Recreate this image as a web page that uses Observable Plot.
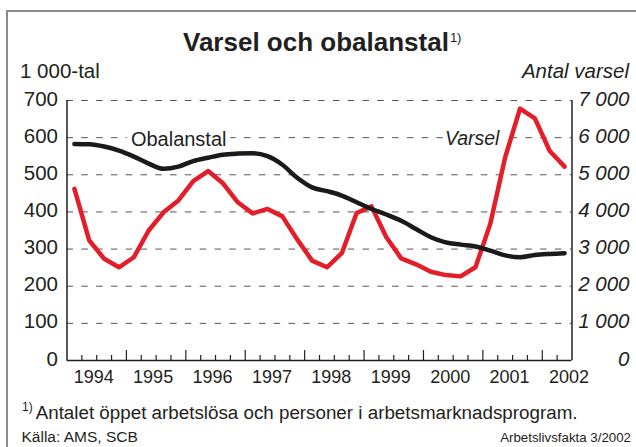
<!DOCTYPE html>
<html>
<head>
<meta charset="utf-8">
<script src="https://cdn.jsdelivr.net/npm/d3@7"></script>
<script src="https://cdn.jsdelivr.net/npm/@observablehq/plot@0.6"></script>
<style>
  body { margin: 0; background: #fff; }
  #wrap { position: relative; width: 636px; height: 447px; overflow: hidden;
          font-family: "Liberation Sans", Arial, Helvetica, sans-serif; color: #231f20; background: #fff; }
  #frame { position: absolute; left: 6px; top: 10px; width: 700px; height: 500px;
           border-top: 2px solid #8c8c8c; border-left: 2px solid #8c8c8c; z-index: 3; pointer-events: none; }
  .t { position: absolute; white-space: nowrap; line-height: 1; z-index: 2; }
  #chart { position: absolute; left: 0; top: 60px; z-index: 1; }
</style>
</head>
<body>
<div id="wrap">
  <div id="chart"></div>
  <div class="t" id="title" style="left:183px; top:29px; font-size:26px; font-weight:bold;">Varsel och obalanstal<span style="font-size:13px; font-weight:normal; vertical-align:9px; margin-left:1px;">1)</span></div>
  <div class="t" id="unitLeft" style="left:20px; top:60.6px; font-size:20.5px;">1&nbsp;000-tal</div>
  <div class="t" id="unitRight" style="right:7px; top:60.6px; font-size:20.5px; font-style:italic;">Antal varsel</div>
  <div class="t" id="note" style="left:22px; top:400.8px; font-size:18.8px;"><span style="font-size:12px; vertical-align:8px; margin-right:3px;">1)</span>Antalet öppet arbetslösa och personer i arbetsmarknadsprogram.</div>
  <div class="t" id="source" style="left:21.5px; top:428.5px; font-size:15.5px;">Källa: AMS, SCB</div>
  <div class="t" id="credit" style="right:5px; top:431px; font-size:13.3px;">Arbetslivsfakta 3/2002</div>
  <div id="frame"></div>
</div>
<script>
// Quarterly values, 1994 Q1 – 2002 Q2
const obalanstal = [
  583, 582, 576, 565,
  549, 530, 516, 522,
  537, 546, 554, 557,
  558, 550, 527, 492,
  466, 456, 444, 426,
  408, 393, 376, 354,
  332, 318, 312, 307,
  296, 283, 278, 284,
  287, 289
];
const varsel = [
  4620, 3230, 2740, 2510,
  2780, 3500, 3990, 4310,
  4830, 5100, 4770, 4260,
  3960, 4080, 3880, 3260,
  2690, 2510, 2890, 3970,
  4150, 3320, 2750, 2590,
  2390, 2300, 2265, 2510,
  3680, 5470, 6780, 6520,
  5640, 5220
];
const startYear = 1994;
const years = [1994, 1995, 1996, 1997, 1998, 1999, 2000, 2001, 2002];
const leftTicks = [0, 100, 200, 300, 400, 500, 600, 700];
const obalLabel = [{name: "Obalanstal", year: 1995.88, value: 600}];
const varselLabel = [{name: "Varsel", year: 2000.82, value: 600}];

const qx = i => startYear + (i + 0.5) / 4;
const obalData = obalanstal.map((v, i) => ({x: qx(i), v}));
const varselData = varsel.map((v, i) => ({x: qx(i), v: v / 10}));

const quarterTicks = d3.range(startYear, 2002.5, 0.25).filter(d => d % 1 !== 0);
const yearTicks = years.filter(y => y > startYear);
const fmt = d => d3.format(",")(d).replace(/,/g, "\u00a0");

const ink = "#231f20";
const plot = Plot.plot({
  width: 636,
  height: 340,
  marginLeft: 66.5,
  marginRight: 64.5,
  marginTop: 40,
  marginBottom: 40,
  x: {domain: [1994, 2002.5]},
  y: {domain: [0, 700]},
  style: {fontFamily: "Liberation Sans, Arial, Helvetica, sans-serif", color: ink, background: "transparent", overflow: "visible"},
  marks: [
    Plot.ruleY(leftTicks.filter(d => d > 0), {stroke: "#555", strokeWidth: 1, strokeDasharray: "6.5,8.3"}),
    Plot.axisY(leftTicks, {anchor: "left", tickSize: 0, tickPadding: 9, fontSize: 20.5, dy: -1.5, label: null, tickFormat: d => String(d), fill: ink}),
    Plot.axisY(leftTicks, {anchor: "right", tickSize: 0, tickPadding: 57.5, textAnchor: "end", fontStyle: "italic", fontSize: 20.5, dy: -1.5, label: null, tickFormat: d => fmt(d * 10), fill: ink}),
    Plot.line(varselData, {x: "x", y: "v", stroke: "#e31e2a", strokeWidth: 4.5}),
    Plot.line(obalData, {x: "x", y: "v", stroke: "#1a1a1a", strokeWidth: 4.5, curve: "monotone-x"}),
    Plot.text(obalLabel, {x: "year", y: "value", text: "name", fontSize: 20, fill: ink, stroke: "white", strokeWidth: 10, dy: 1.5}),
    Plot.text(varselLabel, {x: "year", y: "value", text: "name", fontSize: 19.5, fontStyle: "italic", fill: ink, stroke: "white", strokeWidth: 10, dy: 1.5}),
    Plot.ruleX([1994, 2002.5], {y1: 0, y2: 700, stroke: ink, strokeWidth: 1.5}),
    Plot.ruleY([0], {stroke: ink, strokeWidth: 1.5}),
    Plot.axisX(quarterTicks, {anchor: "bottom", tickSize: -5, tickFormat: () => "", label: null, stroke: ink, strokeWidth: 1.2}),
    Plot.axisX(yearTicks, {anchor: "bottom", tickSize: -10, tickFormat: () => "", label: null, stroke: ink, strokeWidth: 1.2}),
    Plot.axisX(years.map(y => y + 0.5), {anchor: "bottom", tickSize: 0, tickPadding: 10.2, dx: -3, fontSize: 18, label: null, tickFormat: d => String(Math.floor(d)), fill: ink})
  ]
});
document.getElementById("chart").appendChild(plot);
</script>
</body>
</html>
